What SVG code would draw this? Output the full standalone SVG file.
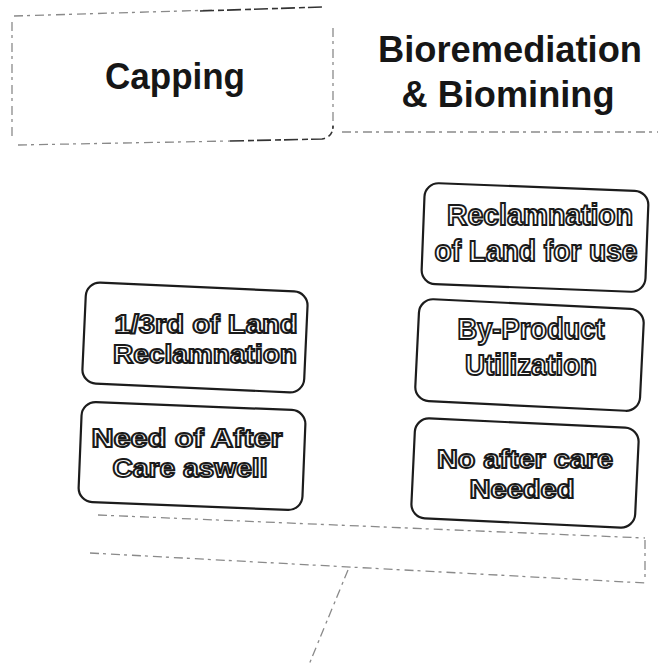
<svg xmlns="http://www.w3.org/2000/svg" width="661" height="671" viewBox="0 0 661 671">
<style>
.title{font-family:"Liberation Sans",Arial,sans-serif;font-weight:bold;fill:#161616;text-anchor:middle}
.box{fill:none;stroke:#1c1c1c;stroke-width:2.2}
.lbl{font-family:"Liberation Sans",Arial,sans-serif;font-weight:bold;font-size:29px;fill:#fff;stroke:#1a1a1a;stroke-width:1.9;text-anchor:middle}
.tight{font-size:26px}
.faint{fill:none;stroke:#8a8a8a;stroke-width:1.3;stroke-dasharray:9 4 3 5}
.faintdark{fill:none;stroke:#333;stroke-width:1.6;stroke-dasharray:14 4 6 3}
</style>
<rect width="661" height="671" fill="#fff"/>

<g id="capping">
  <path class="faint" d="M14,16 L215,10"/>
  <path class="faintdark" d="M200,11 L322,7"/>
  <path class="faint" d="M333,28 L333,130"/>
  <path class="faintdark" d="M230,141 L322,139 Q333,137 333,126"/>
  <path class="faint" d="M18,145 L230,141"/>
  <path class="faint" d="M12,22 L12,140" stroke-dasharray="2 30"/>
  <text class="title" x="175" y="89" font-size="36" textLength="140" lengthAdjust="spacingAndGlyphs">Capping</text>
</g>

<g id="bioremediation">
  <text class="title" x="510" y="62" font-size="37" textLength="264" lengthAdjust="spacingAndGlyphs">Bioremediation</text>
  <text class="title" x="508" y="107" font-size="37" textLength="213" lengthAdjust="spacingAndGlyphs">&amp; Biomining</text>
  <path class="faint" d="M342,132 L658,132" stroke="#aaa"/>
</g>

<g id="reclamation-land-use">
  <rect class="box" x="423" y="187" width="224" height="101" rx="14" transform="rotate(2.2 535 237)"/>
  <text class="lbl" x="540" y="225" textLength="186" lengthAdjust="spacingAndGlyphs">Reclamnation</text>
  <text class="lbl" x="536" y="261" textLength="203" lengthAdjust="spacingAndGlyphs">of Land for use</text>
</g>

<g id="by-product">
  <rect class="box" x="417" y="304" width="225" height="102" rx="14" transform="rotate(2.8 529 355)"/>
  <text class="lbl" x="531" y="339" textLength="147" lengthAdjust="spacingAndGlyphs">By-Product</text>
  <text class="lbl" x="531" y="375" textLength="132" lengthAdjust="spacingAndGlyphs">Utilization</text>
</g>

<g id="no-after-care">
  <rect class="box" x="413" y="423" width="224" height="100" rx="14" transform="rotate(2.7 525 473)"/>
  <text class="lbl tight" x="525" y="468" textLength="176" lengthAdjust="spacingAndGlyphs">No after care</text>
  <text class="lbl tight" x="522" y="498" textLength="105" lengthAdjust="spacingAndGlyphs">Needed</text>
</g>

<g id="one-third-land">
  <rect class="box" x="84" y="287" width="222" height="101" rx="14" transform="rotate(2.6 195 337)"/>
  <text class="lbl tight" x="206" y="333" textLength="183" lengthAdjust="spacingAndGlyphs">1/3rd of Land</text>
  <text class="lbl tight" x="205" y="363" textLength="184" lengthAdjust="spacingAndGlyphs">Reclamnation</text>
</g>

<g id="need-after-care">
  <rect class="box" x="80" y="406" width="224" height="100" rx="14" transform="rotate(2.3 192 456)"/>
  <text class="lbl tight" x="187" y="447" textLength="191" lengthAdjust="spacingAndGlyphs">Need of After</text>
  <text class="lbl tight" x="190" y="477" textLength="155" lengthAdjust="spacingAndGlyphs">Care aswell</text>
</g>

<g id="bottom-box">
  <path class="faint" d="M98,515 L645,538"/>
  <path class="faint" d="M645,540 L645,582"/>
  <path class="faint" d="M90,553 L645,583"/>
</g>

<g id="connectors">
  <path class="faint" d="M348,570 L308,667" stroke="#666" stroke-dasharray="5 6"/>
</g>
</svg>
